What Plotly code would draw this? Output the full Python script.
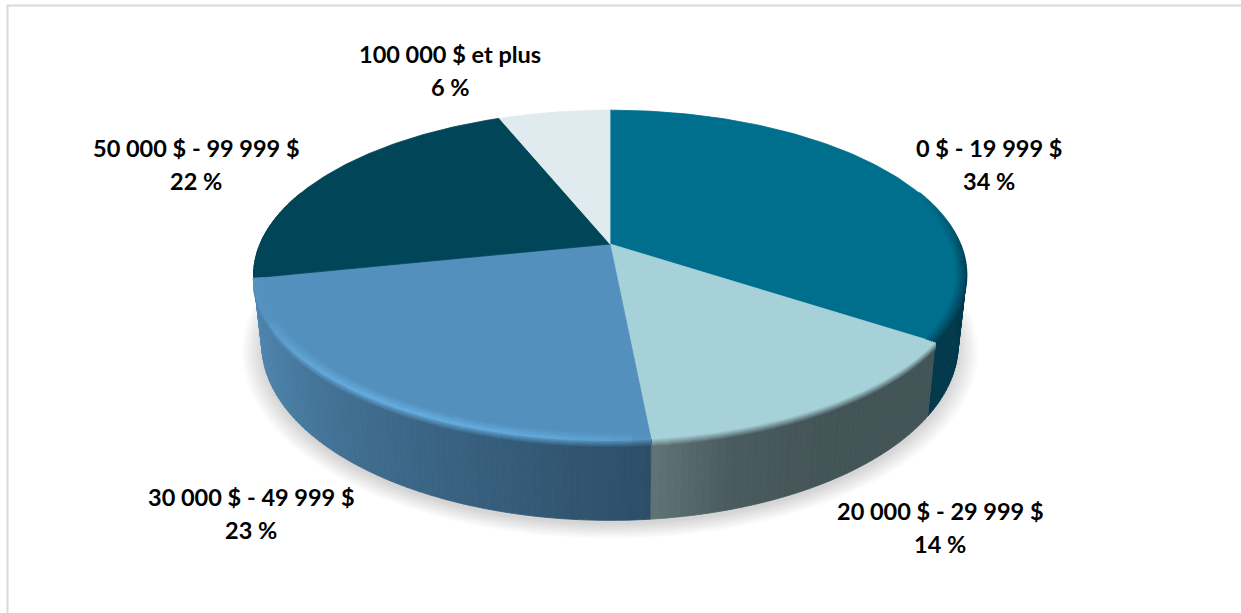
import numpy as np
import plotly.graph_objects as go

# ---- data ----
categories = ["0 $ - 19 999 $", "20 000 $ - 29 999 $", "30 000 $ - 49 999 $",
              "50 000 $ - 99 999 $", "100 000 $ et plus"]
values = [34, 14, 23, 22, 6]

# ---- styles ----
top_colors = ["#006F8E", "#A6D1D9", "#5490BE", "#004558", "#DFEBEF"]
wall_stops = [["#01394B", "#01394B"],
              ["#5F7375", "#4A5C5F", "#455659", "#435457", "#435457", "#435457"],
              ["#5088B2", "#497CA2", "#3F6C8E", "#365D7B", "#2D4E68"],
              ["#01303F", "#01303F"],
              ["#9AA6AA", "#9AA6AA"]]
rim_colors = ["#013F53", "#A6D1D9", "#64ACDD", "#004558", "#DFEBEF"]
label_pos = [(989, 148), (940, 511), (251, 497), (196, 148), (450, 54)]
LINE_GAP = 32.5

W, H = 1241, 613
CX = 610
TOP_YC, TOP_S, TOP_R = 244.0, 159.0, 350.0
BOT_YC, BOT_S, BOT_R = 311.0, 170.0, 342.0
K = 0.188


def proj(theta, r=1.0, yc=TOP_YC, s=TOP_S, rx=TOP_R):
    """Perspective projection of a point of the disc (theta clockwise from top)."""
    X, Y = r * np.sin(theta), r * np.cos(theta)
    d = 1 + K * Y
    return CX + rx * X / d, yc - s * Y / d


def hex2rgb(h):
    return np.array([int(h[i:i + 2], 16) for i in (1, 3, 5)], float)


def mix(a, b, t):
    c = hex2rgb(a) * (1 - t) + hex2rgb(b) * t
    return "#%02x%02x%02x" % tuple(int(v) for v in np.round(c))


def ramp(stops, t):
    p = np.clip(t, 0, 1) * (len(stops) - 1)
    i = min(int(p), len(stops) - 2)
    return mix(stops[i], stops[i + 1], p - i)


fig = go.Figure()


def poly(x, y, color, line=True):
    fig.add_trace(go.Scatter(
        x=list(x), y=list(y), mode="lines", fill="toself", fillcolor=color,
        line=dict(color=color if line else "rgba(0,0,0,0)", width=0.8 if line else 0),
        hoverinfo="skip", showlegend=False))


def glow_of(t):
    return np.sin(np.clip(t * 1.2, 0, 1) * np.pi) ** 0.5 * 0.9 + 0.1


# soft shadow under the pie
full = np.linspace(0, 2 * np.pi, 181)
for f in np.linspace(1.055, 1.0, 14):
    sx, sy = proj(full, f, BOT_YC + 4, BOT_S, BOT_R)
    poly(sx, sy, "rgba(0,0,0,0.013)", line=False)

edges = np.cumsum([0] + values) / sum(values) * 2 * np.pi
WALL_START = np.radians(82)

# walls, farthest first, then front
for i in [0, 3, 1, 2]:
    a0, a1 = edges[i], edges[i + 1]
    vis0 = max(a0, WALL_START) if i == 0 else a0
    vis1 = min(a1, np.radians(290))
    n = max(int(np.degrees(vis1 - vis0)), 1)
    th = np.linspace(vis0, vis1, n + 1)
    for j in range(n):
        t = j / max(n - 1, 1)
        if i in (1, 2):
            t = 1 - t
        col = ramp(wall_stops[i], t)
        xa, ya = proj(th[j:j + 2])
        xb, yb = proj(th[j:j + 2], 1, BOT_YC, BOT_S, BOT_R)
        poly([xa[0], xa[1], xb[1], xb[0], xa[0]], [ya[0], ya[1], yb[1], yb[0], ya[0]], col)

# soft bevel on the wall's upper edge
bands = 7
for i in [1, 2]:
    a0, a1 = edges[i], edges[i + 1]
    n = max(int(np.degrees(a1 - a0) / 2.5), 1)
    th = np.linspace(a0, a1, n + 1)
    for b in range(bands, 0, -1):
        u = b / bands
        for j in range(n):
            t = j / max(n - 1, 1)
            wall = ramp(wall_stops[i], 1 - t)
            if i == 2:
                base = mix(top_colors[i], rim_colors[i], glow_of(t))
            else:
                base = top_colors[i]
            col = mix(base, wall, u)
            y_off = 8 * u
            xa, ya = proj(th[j:j + 2], 1.0)
            poly([xa[0], xa[1], xa[1], xa[0], xa[0]],
                 [ya[0] - 1, ya[1] - 1, ya[1] + y_off, ya[0] + y_off, ya[0] - 1], col)

# top faces
for i in range(len(values)):
    th = np.linspace(edges[i], edges[i + 1], 120)
    x, y = proj(th)
    px = [CX] + list(x) + [CX]
    py = [TOP_YC] + list(y) + [TOP_YC]
    poly(px, py, top_colors[i])

# inner soft rim of the top faces
for i in [0, 2]:
    a0, a1 = edges[i], edges[i + 1]
    vis0 = max(a0, np.radians(70)) if i == 0 else a0
    n = max(int(np.degrees(a1 - vis0) / 2.5), 1)
    th = np.linspace(vis0, a1, n + 1)
    rs = [0.975, 0.982, 0.988, 0.994, 1.0]
    for q, r in enumerate(rs):
        w = (q + 1) / len(rs)
        for j in range(n):
            t = j / max(n - 1, 1)
            if i == 2:
                col = mix(top_colors[i], rim_colors[i], w * glow_of(t))
            else:
                fade = np.clip((np.degrees(th[j]) - 70) / 25, 0, 1)
                col = mix(top_colors[i], rim_colors[i], w * fade)
            xa, ya = proj(th[j:j + 2], r)
            fig.add_trace(go.Scatter(x=xa, y=ya, mode="lines",
                                     line=dict(color=col, width=2.2),
                                     hoverinfo="skip", showlegend=False))

# labels
for name, v, (lx, ly) in zip(categories, values, label_pos):
    for txt, yy in ((name, ly), (f"{v} %", ly + LINE_GAP)):
        fig.add_annotation(x=lx, y=yy, text=f"<b>{txt}</b>", showarrow=False,
                           xanchor="center", yanchor="middle",
                           font=dict(family="Lato", size=23.5, color="#000000"))

# chart area frame (left and top only)
fig.add_shape(type="line", x0=7.5, x1=7.5, y0=5, y1=H, line=dict(color="#D9D9D9", width=2))
fig.add_shape(type="line", x0=7, x1=W, y0=5.5, y1=5.5, line=dict(color="#D9D9D9", width=2))

fig.update_layout(
    width=W, height=H, margin=dict(l=0, r=0, t=0, b=0),
    paper_bgcolor="#FFFFFF", plot_bgcolor="#FFFFFF", showlegend=False,
    xaxis=dict(range=[0, W], visible=False, fixedrange=True),
    yaxis=dict(range=[H, 0], visible=False, fixedrange=True),
)
fig.write_html("out.html", config={"displayModeBar": False},
               post_script="document.body.style.margin='0';document.body.style.overflow='hidden';")
